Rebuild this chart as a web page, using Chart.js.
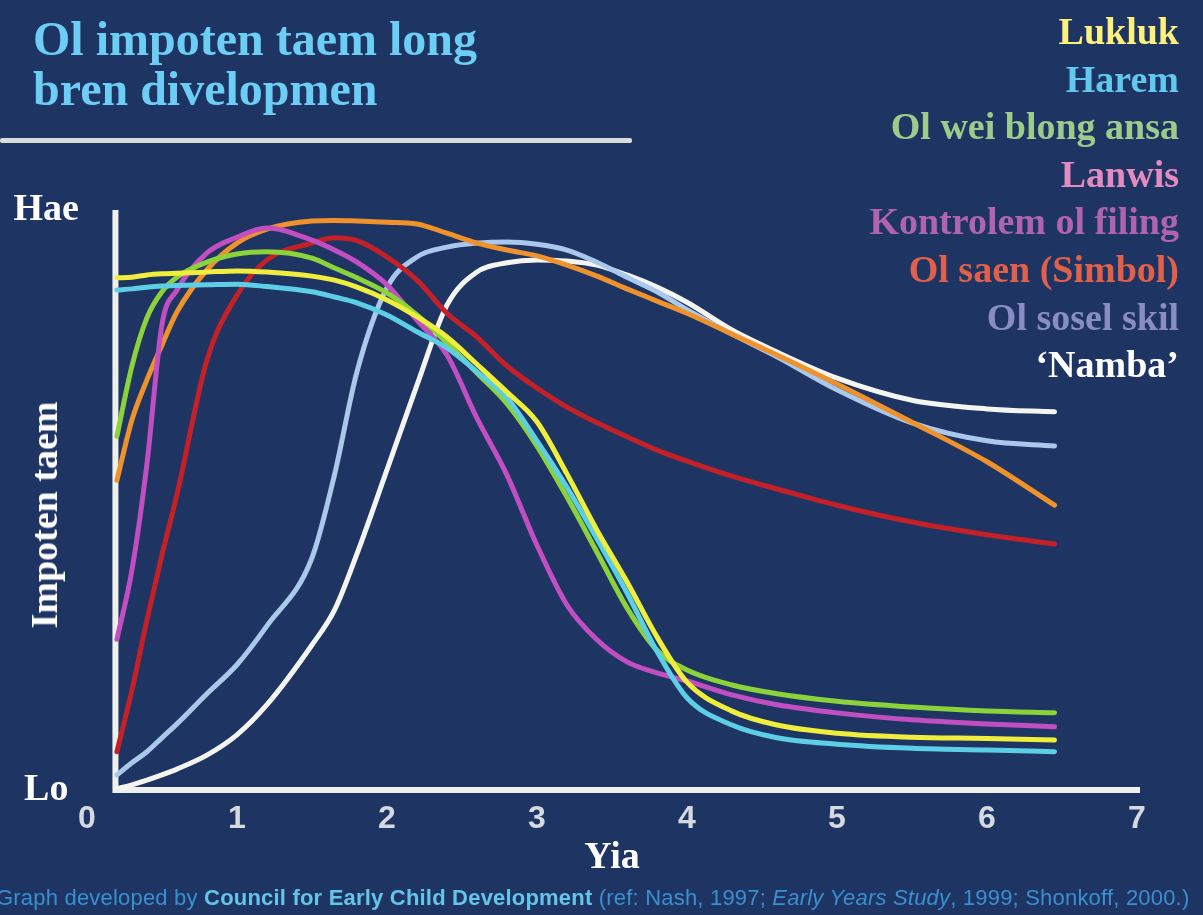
<!DOCTYPE html>
<html>
<head>
<meta charset="utf-8">
<script src="https://cdn.jsdelivr.net/npm/chart.js@4.4.1/dist/chart.umd.min.js"></script>
<style>
  body { margin: 0; background: #1e3564; }
  #wrap { position: relative; width: 1203px; height: 915px; overflow: hidden; background: #1e3564; }
  #chart { position: absolute; left: 0; top: 0; }
  .serif { font-family: 'Liberation Serif', 'Times New Roman', serif; font-weight: bold; }
  #title { position: absolute; left: 33px; top: 14px; font-size: 48px; line-height: 50px; color: #6ccdf5; }
  #rule { position: absolute; left: 0; top: 138px; width: 632px; height: 5px; background: #d9ddd9; border-radius: 2px; }
  #legend { position: absolute; right: 24px; top: 8px; text-align: right; font-size: 38px; line-height: 47.6px; white-space: nowrap; }
  #ylabel { position: absolute; left: 44px; top: 515px; transform: translate(-50%, -50%) rotate(-90deg); font-size: 38px; color: #fff; white-space: nowrap; }
  #footer { position: absolute; left: -4px; top: 885px; font-family: 'Liberation Sans', Arial, sans-serif; font-size: 22px; letter-spacing: 0.2px; color: #3a8fd0; white-space: nowrap; }
  #footer b { color: #66c4ea; }
</style>
</head>
<body>
<div id="wrap">
  <canvas id="chart" width="1203" height="915"></canvas>
  <div id="title" class="serif">Ol impoten taem long<br>bren divelopmen</div>
  <div id="rule"></div>
  <div id="legend" class="serif"></div>
  <div id="ylabel" class="serif">Impoten taem</div>
  <div id="footer">Graph developed by <b>Council for Early Child Development</b> (ref: Nash, 1997; <i>Early Years Study</i>, 1999; Shonkoff, 2000.)</div>
</div>
<script>
// yia (age in years) where the curves were read
const years = [0.2, 0.3, 0.4, 0.5, 0.6, 0.8, 1.0, 1.2, 1.5, 1.65, 1.8, 2.0, 2.2, 2.4, 2.6, 2.8, 3.0, 3.2, 3.4, 3.6, 3.8, 4.0, 4.3, 4.6, 5.0, 5.5, 6.0, 6.45]

// impoten taem, 0 = Lo, 100 = Hae
const lukluk = [88.3, 88.4, 88.8, 89.0, 89.1, 89.3, 89.5, 89.3, 88.6, 87.9, 86.7, 84.5, 81.6, 78.1, 73.4, 68.6, 63.5, 54.5, 44.8, 35.9, 26.4, 18.6, 13.6, 11.2, 9.8, 9.1, 8.9, 8.6]
const harem = [86.2, 86.4, 86.7, 86.9, 87.0, 87.1, 87.2, 86.8, 85.9, 85.0, 84.0, 81.9, 79.0, 76.2, 72.1, 67.6, 60.2, 52.2, 43.3, 34.0, 23.9, 15.9, 11.2, 9.0, 7.9, 7.2, 6.9, 6.6]
const olWei = [61.0, 73.1, 81.4, 85.9, 88.4, 91.0, 92.4, 92.8, 91.7, 90.0, 88.3, 85.7, 81.9, 77.1, 71.9, 66.6, 59.3, 50.5, 41.0, 31.4, 24.1, 20.7, 18.1, 16.6, 15.3, 14.3, 13.6, 13.3]
const lanwis = [26.0, 37.9, 56.2, 80.2, 86.2, 92.6, 95.3, 96.9, 94.8, 93.1, 91.0, 87.1, 81.0, 75.0, 64.1, 54.3, 42.2, 31.9, 25.9, 22.1, 20.2, 18.8, 16.4, 14.7, 13.3, 12.1, 11.4, 10.9]
const kontrolem = [6.6, 17.2, 29.3, 40.5, 50.9, 74.1, 85.3, 91.4, 94.3, 95.2, 94.7, 91.9, 87.9, 82.2, 78.1, 73.1, 69.3, 66.0, 63.3, 60.9, 58.6, 56.7, 54.1, 51.9, 49.1, 46.2, 44.0, 42.4]
const olSaen = [53.4, 63.8, 70.7, 76.7, 82.4, 89.7, 94.3, 96.7, 98.1, 98.2, 98.1, 97.9, 97.6, 96.0, 94.3, 93.1, 92.1, 90.5, 88.6, 86.4, 84.3, 82.2, 78.6, 75.0, 70.0, 63.4, 56.6, 49.1]
const olSosel = [2.6, 4.7, 6.6, 9.0, 11.4, 16.6, 21.6, 28.3, 40.0, 54.3, 72.1, 86.6, 91.9, 93.6, 94.3, 94.5, 94.1, 93.1, 91.0, 88.4, 85.9, 82.8, 78.6, 74.7, 69.0, 63.3, 60.2, 59.3]
const namba = [0.2, 0.9, 1.7, 2.6, 3.6, 6.0, 9.5, 14.7, 25.0, 31.0, 40.7, 55.2, 69.8, 83.6, 89.3, 90.9, 91.4, 91.2, 90.5, 88.8, 86.7, 84.1, 79.3, 75.5, 71.0, 67.2, 65.7, 65.2]

const seriesNames = ['Lukluk', 'Harem', 'Ol wei blong ansa', 'Lanwis', 'Kontrolem ol filing', 'Ol saen (Simbol)', 'Ol sosel skil', '\u2018Namba\u2019']
const seriesValues = [lukluk, harem, olWei, lanwis, kontrolem, olSaen, olSosel, namba]
const lineColors = ['#f0ee3c', '#5ccfe6', '#8cd23a', '#c24fc2', '#c42028', '#f0922c', '#a9c8ec', '#f5f5f0']
const legendColors = ['#fdf07c', '#62c8ee', '#9ccb8a', '#e48cc0', '#b064b0', '#e0604a', '#8a8cc4', '#ffffff']

const yTickValues = [0, 100]
const yTickLabels = ['Lo', 'Hae']
const axisFrom = 0.19 // the white axis starts a bit right of 0
const axisTo = 7.02

const serif = "'Liberation Serif', 'Times New Roman', serif"
const sans = "'Liberation Sans', Arial, sans-serif"

// legend as plain coloured text
const legendBox = document.getElementById('legend')
seriesNames.forEach((name, i) => {
    const d = document.createElement('div')
    d.textContent = name
    d.style.color = legendColors[i]
    legendBox.appendChild(d)
})

// white L-shaped axis, drawn under the curves
const axesLines = {
    id: 'axesLines',
    beforeDatasetsDraw(chart) {
        const { ctx, scales: { x, y } } = chart
        const x0 = x.getPixelForValue(axisFrom)
        ctx.save()
        ctx.strokeStyle = '#eef0ee'
        ctx.lineWidth = 6
        ctx.beginPath()
        ctx.moveTo(x0, y.getPixelForValue(100))
        ctx.lineTo(x0, y.getPixelForValue(0))
        ctx.lineTo(x.getPixelForValue(axisTo), y.getPixelForValue(0))
        ctx.stroke()
        ctx.restore()
    }
}

const datasets = seriesNames.map((name, i) => ({
    label: name,
    data: seriesValues[i].map((v, j) => ({ x: years[j], y: v })),
    borderColor: lineColors[i],
    borderWidth: 5,
    pointRadius: 0,
    cubicInterpolationMode: 'monotone',
    borderCapStyle: 'round'
}))

new Chart(document.getElementById('chart'), {
    type: 'line',
    data: { datasets: datasets },
    plugins: [axesLines],
    options: {
        responsive: false,
        animation: false,
        devicePixelRatio: 1,
        layout: { padding: { left: 5.5, right: 66, top: 210, bottom: 38 } },
        plugins: { legend: { display: false }, tooltip: { enabled: false } },
        scales: {
            x: {
                type: 'linear', min: 0, max: 7,
                grid: { display: false, drawTicks: false },
                border: { display: false },
                ticks: { stepSize: 1, padding: 13, color: '#d6dae0', font: { family: sans, size: 32, weight: 'bold', lineHeight: 1 } },
                title: { display: true, text: 'Yia', color: '#ffffff', padding: { top: -9, bottom: 0 }, font: { family: serif, size: 38, weight: 'bold', lineHeight: 1 } }
            },
            y: {
                min: 0, max: 100,
                grid: { display: false, drawTicks: false },
                border: { display: false },
                afterBuildTicks: (s) => { s.ticks = yTickValues.map(v => ({ value: v })) },
                ticks: {
                    padding: 8, crossAlign: 'center', color: '#ffffff',
                    font: { family: serif, size: 38, weight: 'bold', lineHeight: 1 },
                    callback: (v) => yTickLabels[yTickValues.indexOf(v)]
                }
            }
        }
    }
})
</script>
</body>
</html>
